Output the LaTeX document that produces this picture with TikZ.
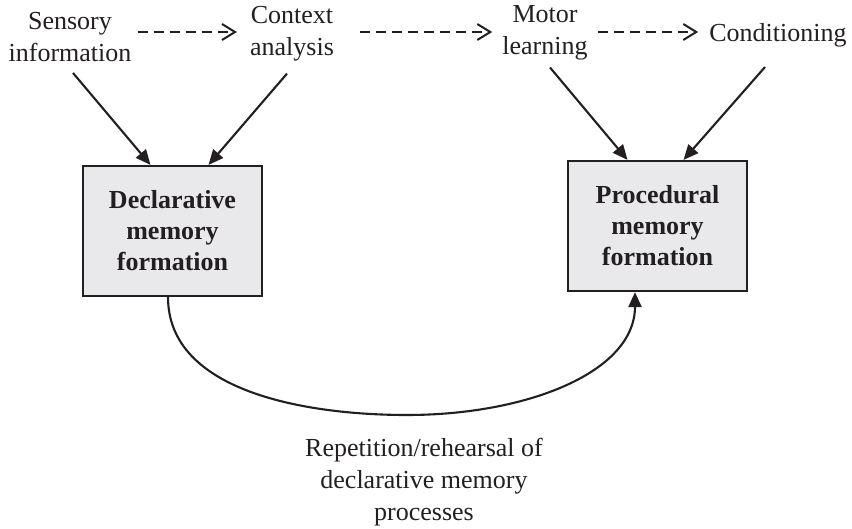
\documentclass[tikz,border=0pt]{standalone}
\usepackage{fontspec}
\setmainfont{Liberation Serif}
\usetikzlibrary{arrows.meta,calc}
\definecolor{boxfill}{RGB}{233,233,235}
\definecolor{ink}{RGB}{35,31,32}
\begin{document}
\begin{tikzpicture}[x=1pt,y=-1pt,
  lbl/.style={font=\fontsize{26}{32}\selectfont, align=center, inner sep=0pt, text=ink},
  membox/.style={draw=ink, line width=2.2pt, fill=boxfill, minimum width=179pt,
    minimum height=130pt, inner sep=0pt, align=center, text=ink,
    font=\fontsize{26}{31}\selectfont\bfseries},
  feed/.style={draw=ink, line width=2.1pt, -{Triangle[length=15pt,width=13pt]}},
  seq/.style={draw=ink, line width=2pt, dash pattern=on 10pt off 6pt,
    -{Straight Barb[length=13pt,width=16pt,line width=2pt]}},
]
\useasboundingbox (0,0) rectangle (852,529);

% stages of processing along the top
\node[lbl] (sens)  at (70,37)  {Sensory\\information};
\node[lbl] (ctx)   at (292,34) {Context\\analysis};
\node[lbl] (motor) at (545,33) {Motor\\learning};
\node[lbl] (cond)  at (778,35) {Conditioning};

% the two kinds of memory formation
\node[membox] (decl) at (172.5,231) {Declarative\\memory\\formation};
\node[membox] (proc) at (657.5,226) {Procedural\\memory\\formation};

% caption under the loop
\node[lbl] (rep) at (424,482) {Repetition/rehearsal of\\declarative memory\\processes};

% dashed sequence between stages
\draw[seq] ($(sens.east)+(6,-5)$)   -- ($(ctx.west)+(-13,-2)$);
\draw[seq] ($(ctx.east)+(26,-2)$)   -- ($(motor.west)+(-10,-1)$);
\draw[seq] ($(motor.east)+(10,-1)$) -- ($(cond.west)+(-11,-3)$);

% stages feeding the memory boxes
\draw[feed] ($(sens.south)+(3,11)$)   -- ($(decl.north)+(-22,0)$);
\draw[feed] ($(ctx.south)+(-5,12)$)   -- ($(decl.north)+(36,0)$);
\draw[feed] ($(motor.south)+(5,7)$)   -- ($(proc.north)+(-30,0)$);
\draw[feed] ($(cond.south)+(-13,20)$) -- ($(proc.north)+(26,0)$);

% rehearsal loop from declarative to procedural
\coordinate (low) at (407,415);
\draw[feed] ($(decl.south)+(-4.5,0)$) .. controls +(0,95) and +(-100,0) .. (low)
  .. controls +(120,0) and +(0,80) .. ($(proc.south)+(-22.5,0)$);
\end{tikzpicture}
\end{document}
